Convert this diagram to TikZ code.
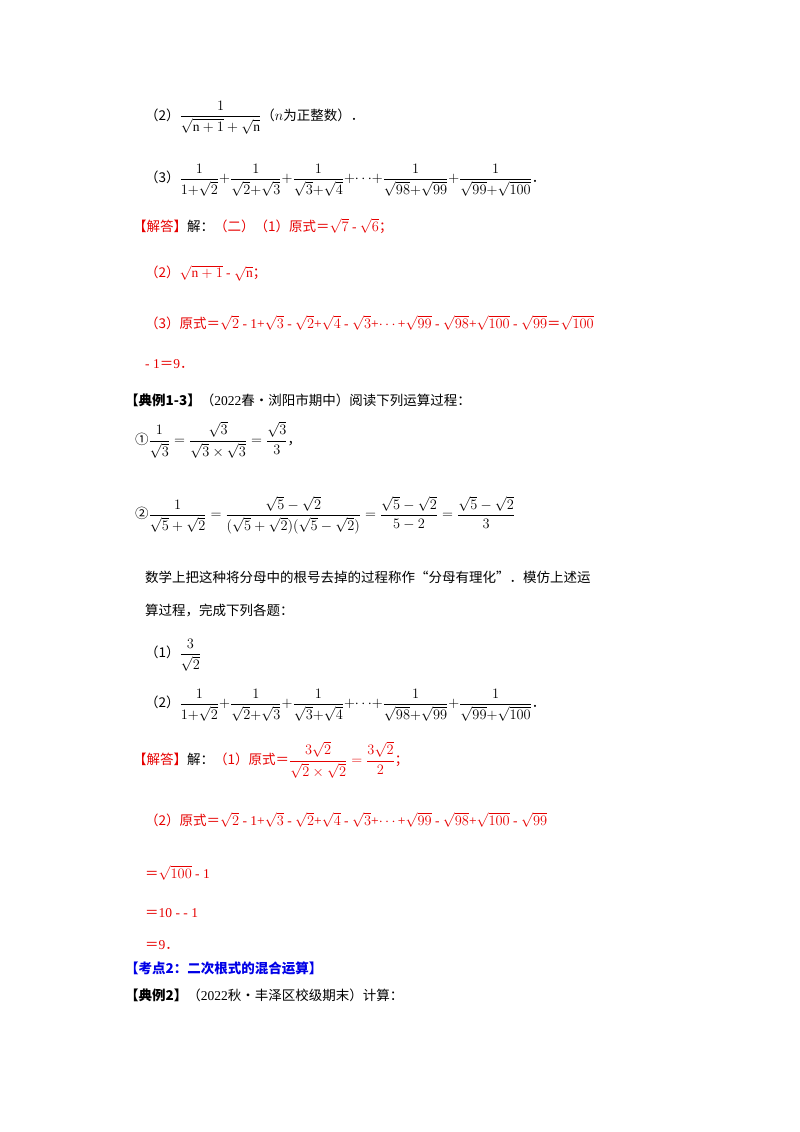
\documentclass[tikz,border=0pt]{standalone}
\usepackage{amsmath}
\usepackage{fontspec}
\setmainfont{Liberation Serif}
\newfontfamily\cjk{Noto Sans CJK SC}
\newcommand\zh[1]{{\cjk #1}}
\definecolor{rd}{RGB}{230,0,0}
\definecolor{bl}{RGB}{0,0,230}
\begin{document}
\begin{tikzpicture}[x=1pt,y=-1pt,
  ln/.style={anchor=west,inner sep=0pt,font=\fontsize{13.5}{16}\selectfont},
  red/.style={ln,text=rd}]
\useasboundingbox (0,0) rectangle (800,1132);
\node[ln] (a1) at (145,118) {\zh{（2）}$\dfrac{1}{\sqrt{\mathrm{n}+1}+\sqrt{\mathrm{n}}}$\zh{（}$n$\zh{为正整数）．}};
\node[ln] (a2) at (145,180) {\zh{（3）}$\dfrac{1}{1{+}\sqrt2}{+}\dfrac{1}{\sqrt2{+}\sqrt3}{+}\dfrac{1}{\sqrt3{+}\sqrt4}{+}{\cdots}{+}\dfrac{1}{\sqrt{98}{+}\sqrt{99}}{+}\dfrac{1}{\sqrt{99}{+}\sqrt{100}}$\zh{．}};
\node[red] (a3) at (133,226) {\zh{【解答】}\textcolor{black}{\zh{解：}}\zh{（二）（1）原式＝}$\sqrt7$ - $\sqrt6$\zh{；}};
\node[red] (a4) at (145,273) {\zh{（2）}$\sqrt{\mathrm{n}+1}$ - $\sqrt{\mathrm{n}}$\zh{；}};
\node[red] (a5) at (145,323) {\zh{（3）原式＝}$\sqrt2$ - 1+$\sqrt3$ - $\sqrt2$+$\sqrt4$ - $\sqrt3$+$\cdots$+$\sqrt{99}$ - $\sqrt{98}$+$\sqrt{100}$ - $\sqrt{99}$\zh{＝}$\sqrt{100}$};
\node[red] (a6) at (145,364) {- 1\zh{＝}9\zh{．}};
\node[ln] (b1) at (125,400) {\textbf{\zh{【典例1-3】}}\zh{（}2022\zh{春•浏阳市期中）阅读下列运算过程：}};
\node[ln] (b2) at (135,440) {\zh{①}$\dfrac{1}{\sqrt3}=\dfrac{\sqrt3}{\sqrt3\times\sqrt3}=\dfrac{\sqrt3}{3}$\zh{，}};
\node[ln] (b3) at (135,515) {\zh{②}$\dfrac{1}{\sqrt5+\sqrt2}=\dfrac{\sqrt5-\sqrt2}{(\sqrt5+\sqrt2)(\sqrt5-\sqrt2)}=\dfrac{\sqrt5-\sqrt2}{5-2}=\dfrac{\sqrt5-\sqrt2}{3}$};
\node[ln] (b4) at (145,577) {\zh{数学上把这种将分母中的根号去掉的过程称作“分母有理化”．模仿上述运}};
\node[ln] (b5) at (145,610) {\zh{算过程，完成下列各题：}};
\node[ln] (b6) at (145,655) {\zh{（1）}$\dfrac{3}{\sqrt2}$};
\node[ln] (b7) at (145,705) {\zh{（2）}$\dfrac{1}{1{+}\sqrt2}{+}\dfrac{1}{\sqrt2{+}\sqrt3}{+}\dfrac{1}{\sqrt3{+}\sqrt4}{+}{\cdots}{+}\dfrac{1}{\sqrt{98}{+}\sqrt{99}}{+}\dfrac{1}{\sqrt{99}{+}\sqrt{100}}$\zh{．}};
\node[red] (c1) at (133,760) {\zh{【解答】}\textcolor{black}{\zh{解：}}\zh{（1）原式＝}$\dfrac{3\sqrt2}{\sqrt2\times\sqrt2}=\dfrac{3\sqrt2}{2}$\zh{；}};
\node[red] (c2) at (145,820) {\zh{（2）原式＝}$\sqrt2$ - 1+$\sqrt3$ - $\sqrt2$+$\sqrt4$ - $\sqrt3$+$\cdots$+$\sqrt{99}$ - $\sqrt{98}$+$\sqrt{100}$ - $\sqrt{99}$};
\node[red] (c3) at (145,873) {\zh{＝}$\sqrt{100}$ - 1};
\node[red] (c4) at (145,913) {\zh{＝}10 -\ - 1};
\node[red] (c5) at (145,945) {\zh{＝}9\zh{．}};
\node[ln,text=bl] (d1) at (125,968) {\textbf{\zh{【考点2：二次根式的混合运算】}}};
\node[ln] (d2) at (125,995) {\textbf{\zh{【典例2】}}\zh{（}2022\zh{秋•丰泽区校级期末）计算：}};
\end{tikzpicture}
\end{document}
